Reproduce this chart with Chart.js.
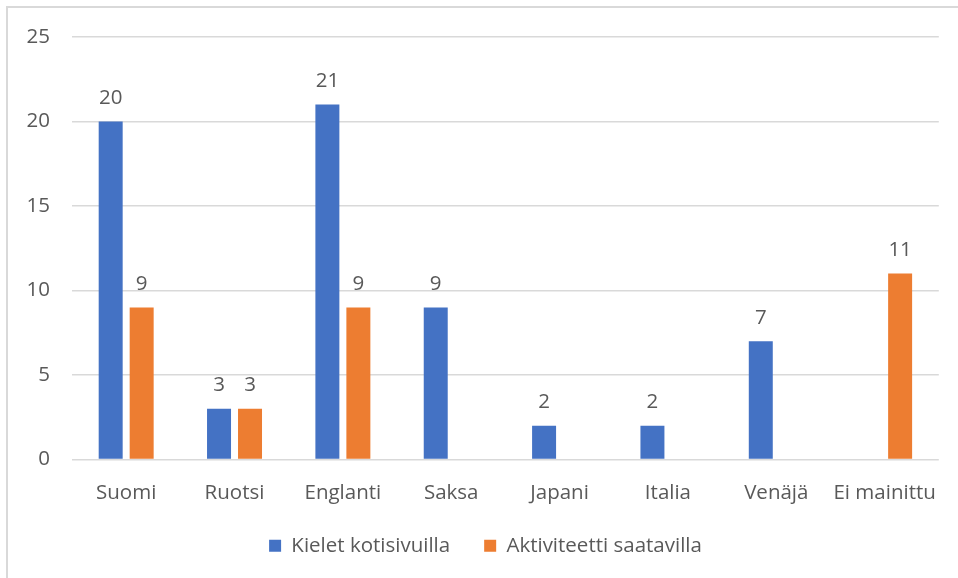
<!DOCTYPE html>
<html><head><meta charset="utf-8">
<script src="https://cdn.jsdelivr.net/npm/chart.js@4/dist/chart.umd.min.js"></script>
<style>
html,body{margin:0;padding:0;background:#fff;}
#wrap{position:absolute;left:0;top:0;width:958px;height:578px;}
#frame{position:absolute;left:6px;top:6px;width:960px;height:580px;border-top:2px solid #d9d9d9;border-left:2px solid #d9d9d9;}
canvas{position:absolute;left:0;top:0;}
</style></head>
<body><div id="wrap"><div id="frame"></div><canvas id="c" width="958" height="578"></canvas></div>
<script>
const categories = ["Suomi","Ruotsi","Englanti","Saksa","Japani","Italia","Venäjä","Ei mainittu"];
const seriesNames = ["Kielet kotisivuilla","Aktiviteetti saatavilla"];
const kieletKotisivuilla = [20,3,21,9,2,2,7,0];
const aktiviteettiSaatavilla = [9,3,9,0,0,0,0,11];
const yTicks = [0,5,10,15,20,25];

const FONT = "'Open Sans', Lato, sans-serif";
const TXT = "#595959";
const FS = 20.5;

const labelPlugin = {
  id: 'barLabels',
  afterDatasetsDraw(chart){
    const ctx = chart.ctx;
    ctx.save();
    ctx.font = FS + "px " + FONT;
    ctx.fillStyle = TXT;
    ctx.textAlign = "center";
    ctx.textBaseline = "bottom";
    chart.data.datasets.forEach((ds,i)=>{
      const meta = chart.getDatasetMeta(i);
      meta.data.forEach((bar,j)=>{
        const v = ds.data[j];
        if(!v) return;
        ctx.fillText(String(v), bar.x, bar.y - 13);
      });
    });
    ctx.restore();
  }
};

const legendShift = {
  id: 'legendShift',
  afterLayout(chart){
    const lg = chart.legend;
    if(!lg) return;
    lg.left += 16; lg.right += 16;
    lg.top -= 12; lg.bottom -= 12;
  }
};

new Chart(document.getElementById('c'), {
  type: 'bar',
  data: {
    labels: categories,
    datasets: [
      {label: seriesNames[0], data: kieletKotisivuilla, backgroundColor: '#4472C4'},
      {label: seriesNames[1], data: aktiviteettiSaatavilla, backgroundColor: '#ED7D31'}
    ]
  },
  options: {
    responsive: false,
    animation: false,
    events: [],
    categoryPercentage: 0.572,
    barPercentage: 0.774,
    layout: {padding: {left: 0, right: 19, top: 37, bottom: 0}},
    plugins: {
      tooltip: {enabled: false},
      legend: {
        position: 'bottom',
        labels: {
          font: {family: FONT, size: FS},
          color: TXT,
          boxWidth: 12,
          boxHeight: 12,
          padding: 34,
          useBorderRadius: false
        }
      }
    },
    scales: {
      x: {
        grid: {display: false, drawTicks: false},
        border: {display: false},
        ticks: {font: {family: FONT, size: FS}, color: TXT, padding: 21, maxRotation: 0, autoSkip: false},
        afterFit(s){ s.height = 54; }
      },
      y: {
        min: 0, max: 25,
        afterBuildTicks(s){ s.ticks = yTicks.map(v=>({value:v})); },
        grid: {color: '#d9d9d9', lineWidth: 1.5, drawTicks: false},
        border: {display: false},
        ticks: {font: {family: FONT, size: FS}, color: TXT, padding: 22},
        afterFit(s){ s.width = 72; }
      }
    }
  },
  plugins: [labelPlugin, legendShift]
});
</script></body></html>
